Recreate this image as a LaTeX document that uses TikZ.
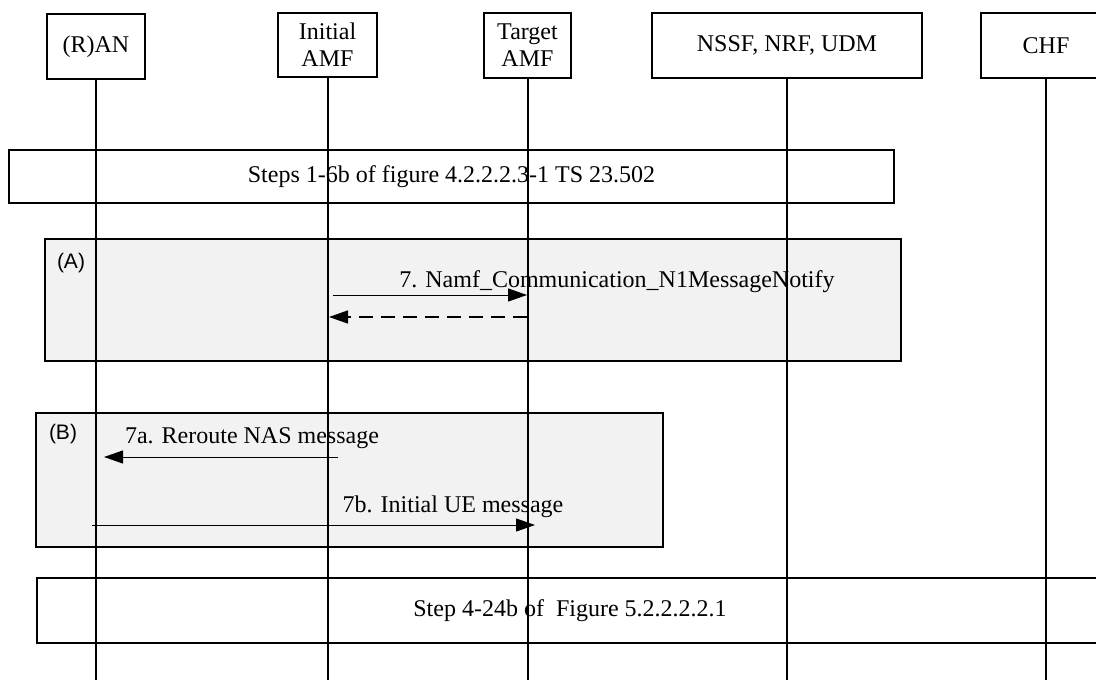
\documentclass[tikz,border=0pt]{standalone}
\usepackage{fontspec}
\setmainfont{Liberation Serif}
\newfontfamily\tagfont{Liberation Sans}
\usetikzlibrary{arrows.meta}
\definecolor{groupgray}{RGB}{242,242,242}

\begin{document}
\begin{tikzpicture}[x=1pt,y=1pt,yscale=-1,xscale=1,
  actor/.style={draw, line width=1.2pt, inner sep=0pt, minimum height=65pt, align=center, font=\fontsize{24}{27}\selectfont},
  stepbox/.style={draw, line width=1.2pt, inner sep=0pt, font=\fontsize{24}{27}\selectfont},
  groupbox/.style={draw, line width=1.5pt, fill=groupgray},
  lifeline/.style={line width=2pt},
  msg/.style={line width=1pt, -{Triangle[length=19pt,width=13pt]}},
  msgtext/.style={anchor=base, inner sep=0pt, font=\fontsize{24}{27}\selectfont},
  grouptag/.style={inner sep=0pt, font=\tagfont\fontsize{21}{25}\selectfont}]
\useasboundingbox (0,0) rectangle (1096,680);
\fill[white] (0,0) rectangle (1096,680);

%Shape: Actors
\node (ran) [actor, minimum width=98pt] at (96,46.5) {(R)AN};
\node (ini) [actor, minimum width=99pt, minimum height=64pt] at (327.5,45) {Initial\\AMF};
\node (tgt) [actor, minimum width=87pt] at (527.5,45.5) {Target\\AMF};
\node (nf) [actor, minimum width=270pt] at (787,45.5) {NSSF, NRF, UDM};
\node (chf) [actor, minimum width=130pt] at (1046,45.5) {CHF};

%Shape: Step boxes
\node (pre) [stepbox, minimum width=885pt, minimum height=53pt] at (451.5,176.5) {Steps 1-6b of figure 4.2.2.2.3-1 TS 23.502};
\node (post) [stepbox, minimum width=1066pt, minimum height=65pt] at (570,610.5) {Step 4-24b of\ \ Figure 5.2.2.2.2.1};

%Shape: Alternative boxes
\draw [groupbox] (45,239) rectangle (901,361);
\draw [groupbox] (36,413) rectangle (663,547);

% Text Node
\node (tagA) [grouptag] at (71,263) {(A)};
% Text Node
\node (tagB) [grouptag] at (63,434) {(B)};

%Straight Lines: lifelines
\coordinate (ran-end) at (96,680);
\coordinate (ini-end) at (327.5,680);
\coordinate (tgt-end) at (527.5,680);
\coordinate (nf-end) at (787,680);
\coordinate (chf-end) at (1046,680);
\draw [lifeline] (ran.south) -- (ran-end);
\draw [lifeline] (ini.south) -- (ini-end);
\draw [lifeline] (tgt.south) -- (tgt-end);
\draw [lifeline] (nf.south) -- (nf-end);
\draw [lifeline] (chf.south) -- (chf-end);

%Straight Lines: messages
\coordinate (notify-from) at (333,295);
\coordinate (notify-to) at (527,295);
\coordinate (reply-from) at (527,317);
\coordinate (reply-to) at (329,317);
\coordinate (reroute-from) at (338,457);
\coordinate (reroute-to) at (104,457);
\coordinate (initue-from) at (92,525);
\coordinate (initue-to) at (535,525);
\draw [msg] (notify-from) -- (notify-to);
\draw [msg, line width=1.5pt, dash pattern=on 14pt off 8pt] (reply-from) -- (reply-to);
\draw [msg] (reroute-from) -- (reroute-to);
\draw [msg] (initue-from) -- (initue-to);

% Text Node
\node (notify) [msgtext] at (617,287) {7. Namf\_Communication\_N1MessageNotify};
% Text Node
\node (reroute) [msgtext] at (252,443) {7a. Reroute NAS message};
% Text Node
\node (initue) [msgtext] at (453,512) {7b. Initial UE message};

\end{tikzpicture}
\end{document}
